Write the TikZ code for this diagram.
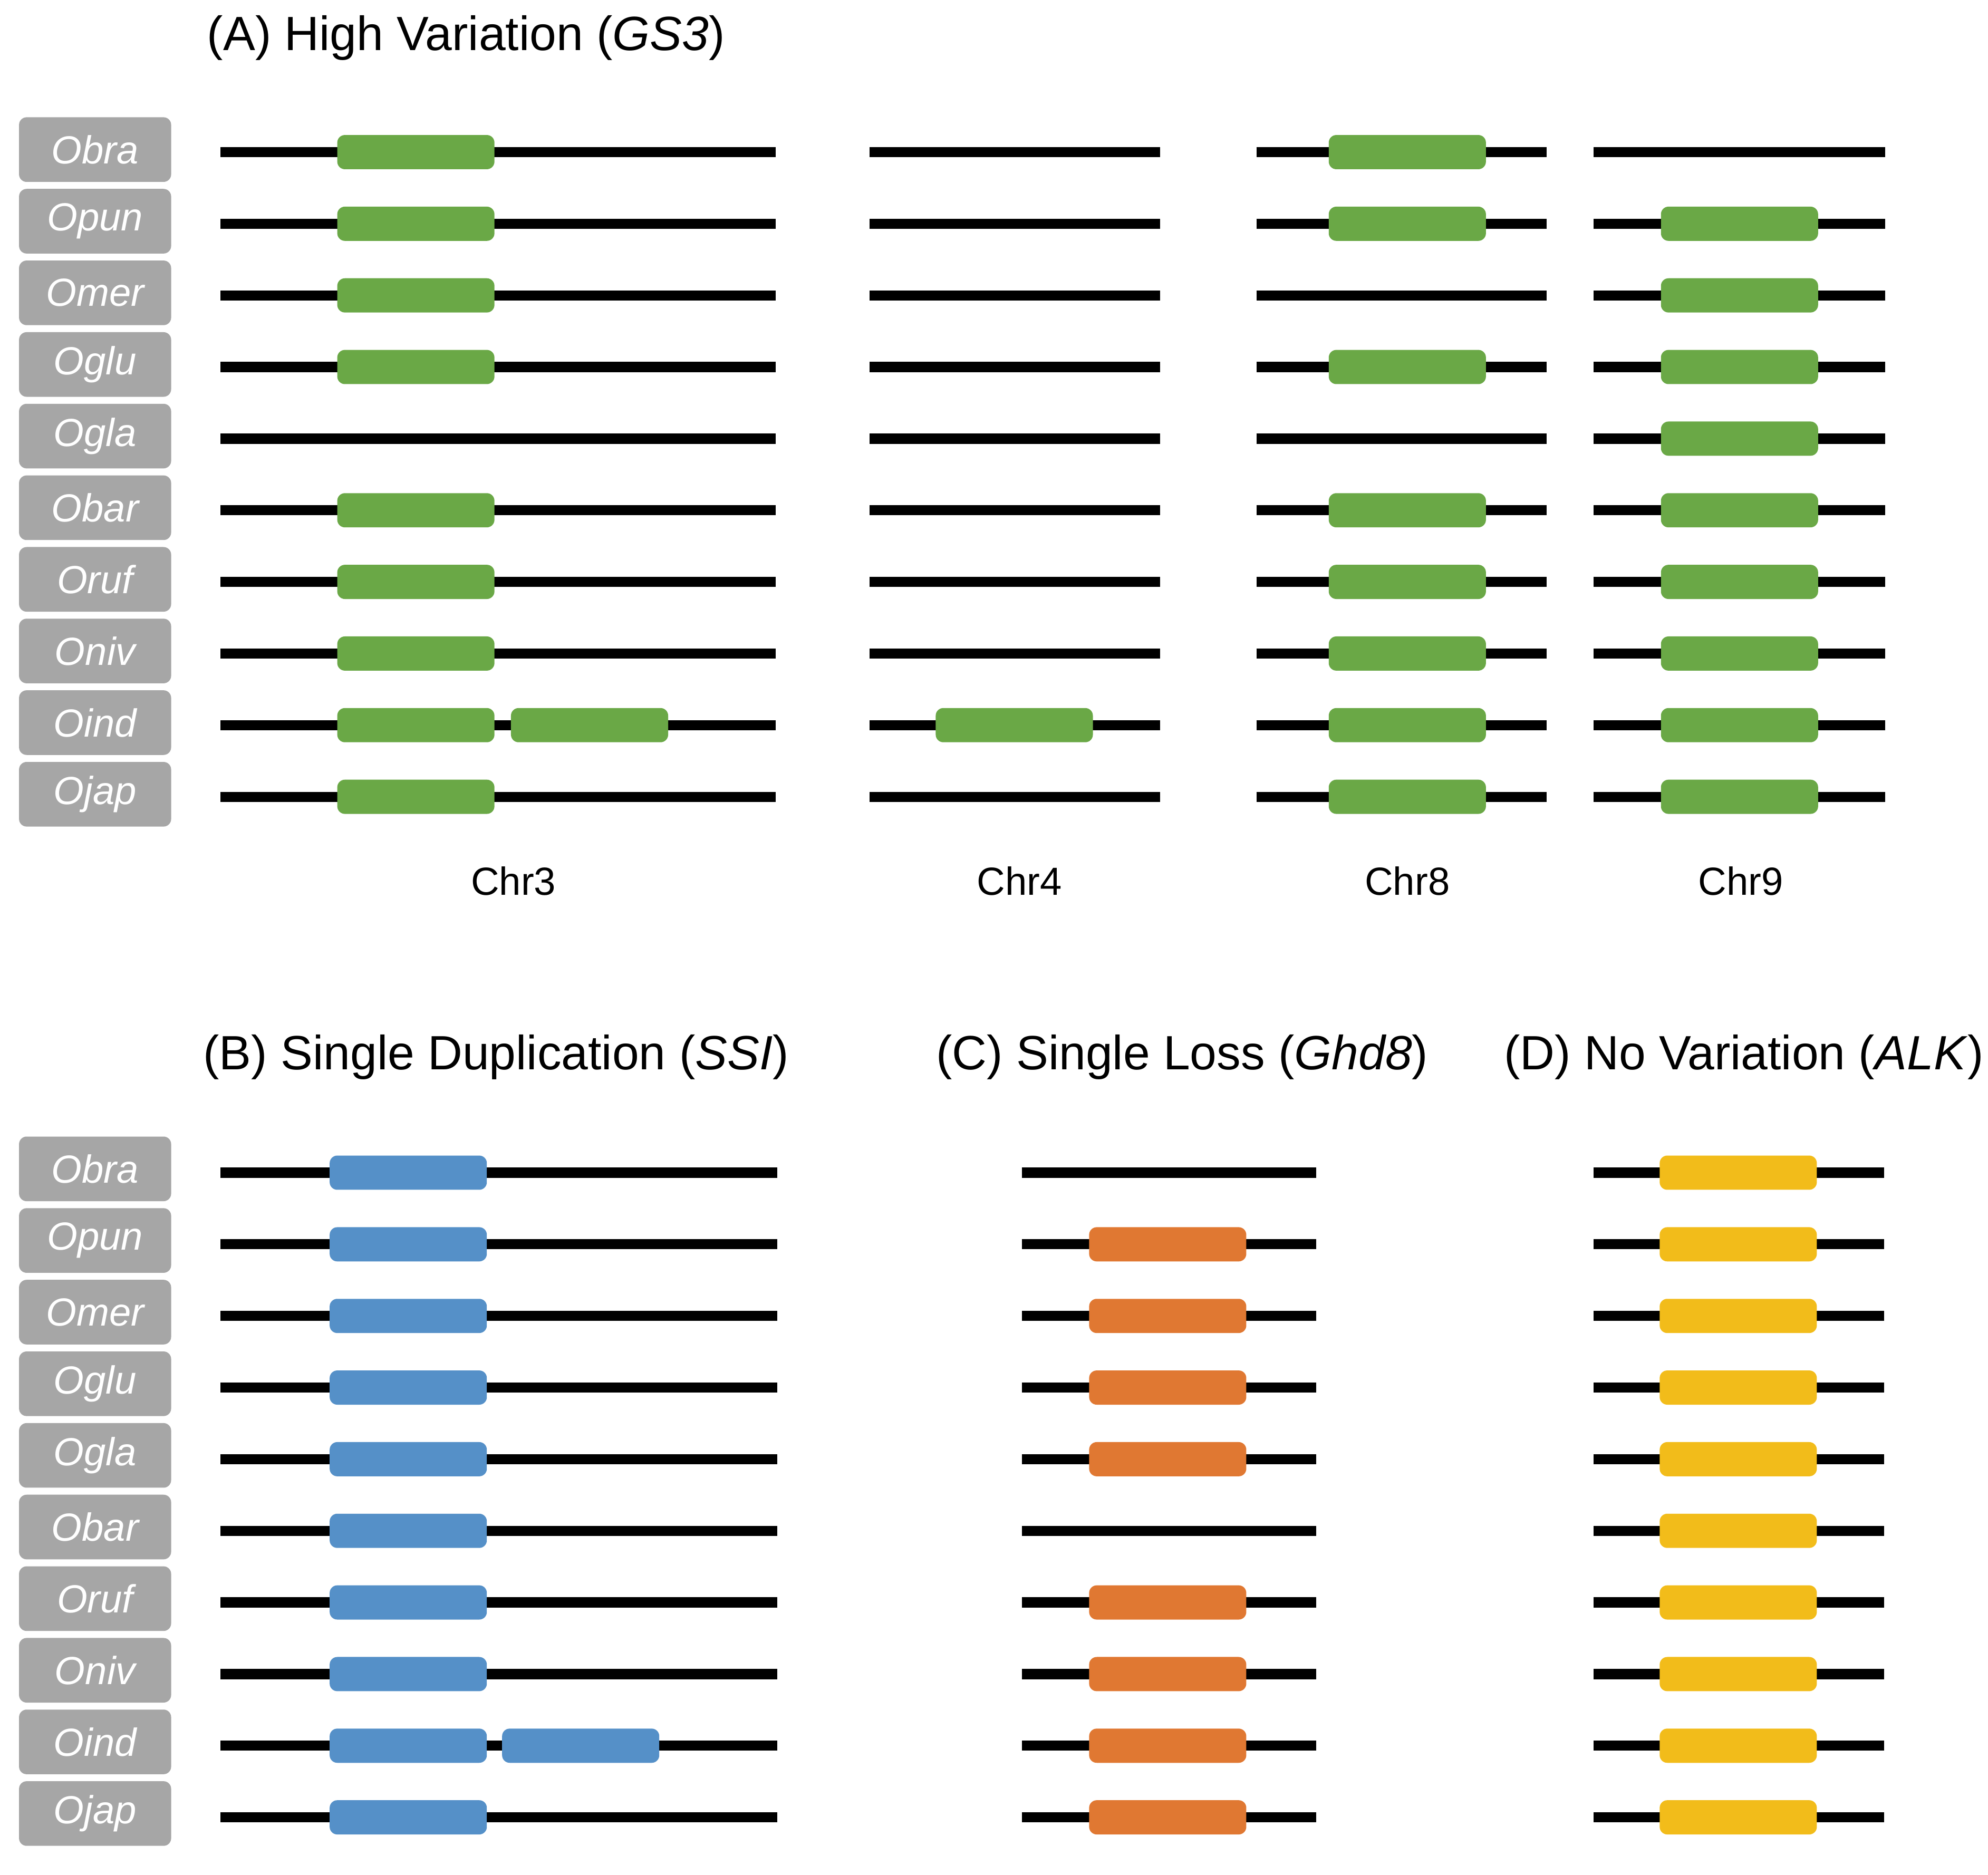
\documentclass[tikz,border=0pt]{standalone}
\usepackage{fontspec}
\setmainfont{Liberation Sans}
\usetikzlibrary{positioning}
\definecolor{labelgray}{RGB}{166,166,166}
\definecolor{genegreen}{RGB}{106,168,70}
\definecolor{geneblue}{RGB}{85,144,200}
\definecolor{geneorange}{RGB}{224,120,50}
\definecolor{geneyellow}{RGB}{242,188,26}
\newcommand{\rowA}[1]{120+56.5*(#1-1)}
\newcommand{\rowB}[1]{925+56.5*(#1-1)}
\tikzset{
  title/.style={font=\fontsize{21.6}{26}\selectfont, anchor=west, inner sep=0},
  species/.style={fill=labelgray, text=white, rounded corners=.12cm,
    minimum width=2.4cm, minimum height=1.02cm, inner sep=0,
    font=\fontsize{17.6}{20}\selectfont\itshape},
  chrline/.style={line width=.16cm, black},
  gene/.style={rounded corners=.12cm, minimum width=2.48cm, minimum height=.54cm, inner sep=0},
  chrname/.style={font=\fontsize{17.6}{20}\selectfont, inner sep=0}
}

\begin{document}
\begin{tikzpicture}[x=.02cm,y=-.02cm]
    \useasboundingbox (0,0) rectangle (1568,1479);
    % titles
    \node[title] (titA) at (163,30) {(A) High Variation (\textit{GS3})};
    \node[title] (titB) at (160,834) {(B) Single Duplication (\textit{SSI})};
    \node[title] (titC) at (738,834) {(C) Single Loss (\textit{Ghd8})};
    \node[title] (titD) at (1186,834) {(D) No Variation (\textit{ALK})};
    % species labels
    \foreach \sp [count=\i] in {Obra,Opun,Omer,Oglu,Ogla,Obar,Oruf,Oniv,Oind,Ojap} {
        \node[species] (spA\i) at (75,{\rowA{\i}-2}) {\sp};
        \node[species] (spB\i) at (75,{\rowB{\i}-3}) {\sp};
    }
    % chromosomes
    \foreach \i in {1,...,10} {
        \draw[chrline] (174,{\rowA{\i}}) -- (612,{\rowA{\i}});
        \draw[chrline] (686,{\rowA{\i}}) -- (915,{\rowA{\i}});
        \draw[chrline] (991,{\rowA{\i}}) -- (1220,{\rowA{\i}});
        \draw[chrline] (1257,{\rowA{\i}}) -- (1487,{\rowA{\i}});
        \draw[chrline] (174,{\rowB{\i}}) -- (613,{\rowB{\i}});
        \draw[chrline] (806,{\rowB{\i}}) -- (1038,{\rowB{\i}});
        \draw[chrline] (1257,{\rowB{\i}}) -- (1486,{\rowB{\i}});
    }
    % GS3
    \foreach \i in {1,2,3,4,6,7,8,9,10}
        \node[gene, fill=genegreen] (g3-\i) at (328,{\rowA{\i}}) {};
    \node[gene, fill=genegreen] (g3b-9) at (465,{\rowA{9}}) {};
    \node[gene, fill=genegreen] (g4-9) at (800,{\rowA{9}}) {};
    \foreach \i in {1,2,4,6,7,8,9,10}
        \node[gene, fill=genegreen] (g8-\i) at (1110,{\rowA{\i}}) {};
    \foreach \i in {2,...,10}
        \node[gene, fill=genegreen] (g9-\i) at (1372,{\rowA{\i}}) {};
    \node[chrname] (chr3) at (405,695) {Chr3};
    \node[chrname] (chr4) at (804,695) {Chr4};
    \node[chrname] (chr8) at (1110,695) {Chr8};
    \node[chrname] (chr9) at (1373,695) {Chr9};
    % SSI, Ghd8, ALK
    \foreach \i in {1,...,10} {
        \node[gene, fill=geneblue] (ssi-\i) at (322,{\rowB{\i}}) {};
        \node[gene, fill=geneyellow] (alk-\i) at (1371,{\rowB{\i}}) {};
    }
    \node[gene, fill=geneblue] (ssib-9) at (458,{\rowB{9}}) {};
    \foreach \i in {2,3,4,5,7,8,9,10}
        \node[gene, fill=geneorange] (ghd-\i) at (921,{\rowB{\i}}) {};
\end{tikzpicture}
\end{document}
